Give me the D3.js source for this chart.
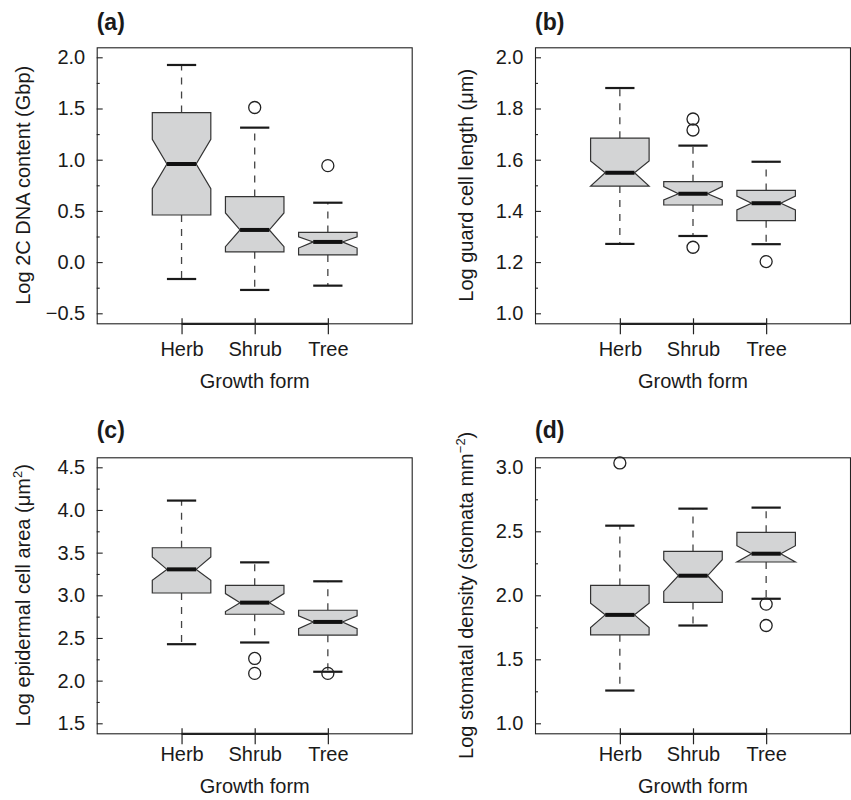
<!DOCTYPE html>
<html>
<head>
<meta charset="utf-8">
<script src="https://cdn.jsdelivr.net/npm/d3@7"></script>
<style>
  body { margin: 0; background: #fff; }
  text { font-family: "Liberation Sans", Arial, Helvetica, sans-serif; fill: #1a1a1a; }
</style>
</head>
<body>
<script>
// growth forms on the x axis
const groups = ["Herb", "Shrub", "Tree"]

// box stats per group: [lower whisker, Q1, notch low, median, notch high, Q3, upper whisker]
const dnaBoxes = [
  [-0.165, 0.46, 0.716, 0.958, 1.20, 1.46, 1.925],
  [-0.272, 0.10, 0.151, 0.314, 0.48, 0.64, 1.313],
  [-0.23, 0.07, 0.137, 0.197, 0.247, 0.29, 0.58]
]
const dnaOutliers = [[], [1.51], [0.942]]
const dnaTicks = [-0.5, 0.0, 0.5, 1.0, 1.5, 2.0]

const guardBoxes = [
  [1.271, 1.497, 1.497, 1.549, 1.595, 1.684, 1.880],
  [1.302, 1.423, 1.443, 1.467, 1.495, 1.514, 1.655],
  [1.270, 1.362, 1.404, 1.430, 1.458, 1.480, 1.592]
]
const guardOutliers = [[], [1.759, 1.716, 1.258], [1.202]]
const guardTicks = [1.0, 1.2, 1.4, 1.6, 1.8, 2.0]

const epiBoxes = [
  [2.427, 3.027, 3.175, 3.304, 3.448, 3.557, 4.110],
  [2.447, 2.778, 2.81, 2.914, 3.02, 3.117, 3.386],
  [2.104, 2.533, 2.61, 2.688, 2.76, 2.825, 3.164]
]
const epiOutliers = [[], [2.26, 2.085], [2.085]]
const epiTicks = [1.5, 2.0, 2.5, 3.0, 3.5, 4.0, 4.5]

const stomBoxes = [
  [1.256, 1.691, 1.748, 1.847, 1.939, 2.077, 2.544],
  [1.764, 1.944, 2.03, 2.153, 2.278, 2.343, 2.677],
  [1.973, 2.26, 2.26, 2.325, 2.387, 2.492, 2.685]
]
const stomOutliers = [[3.034], [], [1.931, 1.764]]
const stomTicks = [1.0, 1.5, 2.0, 2.5, 3.0]

var panels = [
  { tag: "(a)", col: 0, row: 0, boxes: dnaBoxes, outliers: dnaOutliers, ticks: dnaTicks,
    title: [["Log 2C DNA content (Gbp)"]] },
  { tag: "(b)", col: 1, row: 0, boxes: guardBoxes, outliers: guardOutliers, ticks: guardTicks,
    title: [["Log guard cell length (\u03bcm)"]] },
  { tag: "(c)", col: 0, row: 1, boxes: epiBoxes, outliers: epiOutliers, ticks: epiTicks,
    title: [["Log epidermal cell area (\u03bcm"], ["2", "sup"], [")"]] },
  { tag: "(d)", col: 1, row: 1, boxes: stomBoxes, outliers: stomOutliers, ticks: stomTicks,
    title: [["Log stomatal density (stomata mm"], ["\u22122", "sup"], [")"]] }
]

var width = 851
var height = 800
var colLeft = [96.7, 535]
var rowTop = [47.3, 457.3]
var plotW = 316
var plotH = 276
var titleOffset = [-67, -62]
var labelDrop = [33, 28]
var tagRise = [-17, -19]

var svg = d3.select("body")
  .append("svg")
    .attr("width", width)
    .attr("height", height)

panels.forEach(function(p) {
  var left = colLeft[p.col]
  var top = rowTop[p.row]

  var g = svg.append("g")
    .attr("transform", "translate(" + left + "," + top + ")")

  var x = d3.scaleLinear()
    .domain([-0.16, 4.16])
    .range([0, plotW])

  var y = d3.scaleLinear()
    .domain([p.ticks[0], p.ticks[p.ticks.length - 1]])
    .range([plotH - 10, 10])

  // minor ticks halfway between the labelled ones
  var minor = []
  for (let i = 0; i < p.ticks.length - 1; i++) {
    minor.push((p.ticks[i] + p.ticks[i + 1]) / 2)
  }

  // frame
  g.append("rect")
    .attr("x", 0.5)
    .attr("y", 0.5)
    .attr("width", plotW - 1)
    .attr("height", plotH)
    .attr("fill", "none")
    .attr("stroke", "#222")
    .attr("stroke-width", 1.1)

  var yAxis = g.append("g")
    .call(d3.axisLeft(y).tickValues(p.ticks).tickSize(-6).tickPadding(11.5).tickFormat(d3.format(".1f")))
  var yMinor = g.append("g")
    .call(d3.axisLeft(y).tickValues(minor).tickSize(-3).tickFormat(""))
  ;[yAxis, yMinor].forEach(function(a) {
    a.select(".domain").remove()
    a.selectAll("line").attr("stroke", "#222").attr("stroke-width", 1.1)
  })
  yAxis.selectAll("text")
    .attr("font-size", "20px")
    .attr("fill", "#1a1a1a")
    .attr("font-family", null)

  var xAxis = g.append("g")
    .attr("transform", "translate(0," + plotH + ")")
    .call(d3.axisBottom(x).tickValues([1, 2, 3]).tickSize(11)
      .tickPadding(labelDrop[p.row] - 11 - 14.2)
      .tickFormat(function(d) { return groups[d - 1] }))
  xAxis.select(".domain").remove()
  xAxis.selectAll("line")
    .attr("y1", -5)
    .attr("stroke", "#222")
    .attr("stroke-width", 1.2)
  xAxis.selectAll("text")
    .attr("font-size", "20px")
    .attr("fill", "#1a1a1a")
    .attr("font-family", null)

  // axis line between first and last tick
  g.append("line")
    .attr("x1", x(1))
    .attr("x2", x(3))
    .attr("y1", plotH + 0.5)
    .attr("y2", plotH + 0.5)
    .attr("stroke", "#222")
    .attr("stroke-width", 2.2)

  var half = (x(1.4) - x(1))
  var boxes = g.selectAll("g.box")
    .data(p.boxes)
    .enter()
    .append("g")
    .attr("class", "box")

  // whiskers
  boxes.append("line")
    .attr("x1", function(d, i) { return x(i + 1) })
    .attr("x2", function(d, i) { return x(i + 1) })
    .attr("y1", function(d) { return y(d[5]) })
    .attr("y2", function(d) { return y(d[6]) })
    .attr("stroke", "#444")
    .attr("stroke-width", 1.3)
    .attr("stroke-dasharray", "7,7")
  boxes.append("line")
    .attr("x1", function(d, i) { return x(i + 1) })
    .attr("x2", function(d, i) { return x(i + 1) })
    .attr("y1", function(d) { return y(d[1]) })
    .attr("y2", function(d) { return y(d[0]) })
    .attr("stroke", "#444")
    .attr("stroke-width", 1.3)
    .attr("stroke-dasharray", "7,7")

  // caps
  ;[0, 6].forEach(function(k) {
    boxes.append("line")
      .attr("x1", function(d, i) { return x(i + 1) - half / 2 })
      .attr("x2", function(d, i) { return x(i + 1) + half / 2 })
      .attr("y1", function(d) { return y(d[k]) })
      .attr("y2", function(d) { return y(d[k]) })
      .attr("stroke", "#1a1a1a")
      .attr("stroke-width", 2.2)
  })

  // notched box
  boxes.append("path")
    .attr("d", function(d, i) {
      var cx = x(i + 1)
      var pts = [
        [cx - half, y(d[5])], [cx + half, y(d[5])], [cx + half, y(d[4])],
        [cx + half / 2, y(d[3])], [cx + half, y(d[2])], [cx + half, y(d[1])],
        [cx - half, y(d[1])], [cx - half, y(d[2])], [cx - half / 2, y(d[3])],
        [cx - half, y(d[4])]
      ]
      return d3.line()(pts) + "Z"
    })
    .attr("fill", "#d3d4d5")
    .attr("stroke", "#333")
    .attr("stroke-width", 1.2)
    .attr("stroke-linejoin", "miter")

  // median
  boxes.append("line")
    .attr("x1", function(d, i) { return x(i + 1) - half / 2 })
    .attr("x2", function(d, i) { return x(i + 1) + half / 2 })
    .attr("y1", function(d) { return y(d[3]) })
    .attr("y2", function(d) { return y(d[3]) })
    .attr("stroke", "#111")
    .attr("stroke-width", 4)

  // outliers
  var pts = []
  p.outliers.forEach(function(list, i) {
    list.forEach(function(v) { pts.push({ i: i, v: v }) })
  })
  g.selectAll("circle.out")
    .data(pts)
    .enter()
    .append("circle")
    .attr("class", "out")
    .attr("cx", function(d) { return x(d.i + 1) })
    .attr("cy", function(d) { return y(d.v) })
    .attr("r", 6)
    .attr("fill", "none")
    .attr("stroke", "#222")
    .attr("stroke-width", 1.3)

  // panel tag
  g.append("text")
    .attr("x", 0)
    .attr("y", tagRise[p.row])
    .attr("font-size", "23px")
    .attr("font-weight", "bold")
    .text(p.tag)

  // axis titles
  g.append("text")
    .attr("x", x(2))
    .attr("y", plotH + labelDrop[p.row] + 32)
    .attr("text-anchor", "middle")
    .attr("font-size", "20px")
    .text("Growth form")

  var yt = g.append("text")
    .attr("transform", "translate(" + titleOffset[p.col] + "," + (plotH / 2) + ")rotate(-90)")
    .attr("text-anchor", "middle")
    .attr("font-size", "20px")
  p.title.forEach(function(part) {
    var t = yt.append("tspan").text(part[0])
    if (part[1] == "sup") {
      t.attr("font-size", "13px").attr("dy", -8)
    } else if (yt.selectAll("tspan").size() > 1) {
      t.attr("dy", 8)
    }
  })
})
</script>
</body>
</html>
